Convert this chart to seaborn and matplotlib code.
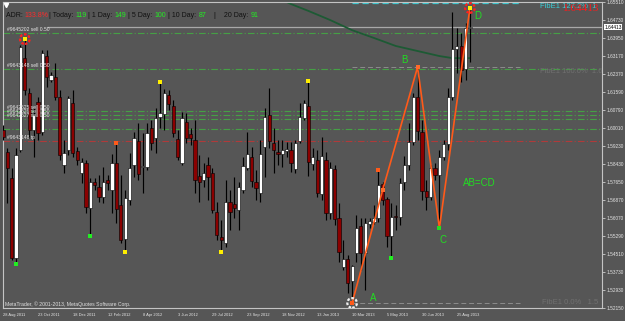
import numpy as np
import pandas as pd
import matplotlib
matplotlib.use("Agg")
import matplotlib.pyplot as plt
import seaborn as sns

BG = "#565656"
sns.set_style("dark", rc={"axes.facecolor": BG, "figure.facecolor": BG})
plt.rcParams["font.family"] = ["Liberation Sans", "DejaVu Sans"]

# ---------------- data (weekly candles) ----------------
week_start = "2011-08-28"
opens = [1.5992, 1.5896, 1.5783, 1.5433, 1.5905, 1.6306, 1.6154, 1.5992, 1.6114, 1.5983,
         1.6315, 1.6210, 1.6224, 1.6136, 1.5839, 1.5905, 1.6110, 1.5900, 1.5804, 1.5848,
         1.5652, 1.5765, 1.5743, 1.5700, 1.5774, 1.5730, 1.5848, 1.5665, 1.5516, 1.5687,
         1.5839, 1.5944, 1.5831, 1.5831, 1.6001, 1.5957, 1.6049, 1.6062, 1.6145, 1.6097,
         1.5953, 1.5848, 1.6027, 1.5975, 1.5948, 1.5791, 1.5774, 1.5839, 1.5804, 1.5634,
         1.5525, 1.5499, 1.5678, 1.5669, 1.5643, 1.5730, 1.5826, 1.5874, 1.5765, 1.5717,
         1.5918, 1.6058, 1.5935, 1.5896, 1.5887, 1.5900, 1.5905, 1.5822, 1.5944, 1.6045,
         1.6097, 1.5844, 1.5861, 1.5713, 1.5861, 1.5630, 1.5822, 1.5608, 1.5394, 1.5429,
         1.5333, 1.5455, 1.5573, 1.5455, 1.5582, 1.5590, 1.5608, 1.5756, 1.5691, 1.5529,
         1.5617, 1.5612, 1.5765, 1.5839, 1.5940, 1.6136, 1.5983, 1.5726, 1.5700, 1.5826,
         1.5796, 1.5874, 1.5931, 1.6136, 1.6346, 1.6359, 1.6258, 1.6437]
highs = [1.6014, 1.5914, 1.5826, 1.5914, 1.6363, 1.6389, 1.6176, 1.6088, 1.6136, 1.6341,
         1.6341, 1.6245, 1.6285, 1.6167, 1.5948, 1.6141, 1.6167, 1.5918, 1.5870, 1.5861,
         1.5783, 1.5783, 1.5796, 1.5831, 1.5796, 1.5887, 1.5935, 1.5796, 1.5730, 1.5892,
         1.5983, 1.6023, 1.5979, 1.6023, 1.6036, 1.6088, 1.6202, 1.6171, 1.6167, 1.6123,
         1.5992, 1.6071, 1.6066, 1.6001, 1.6036, 1.5883, 1.5848, 1.5874, 1.5826, 1.5678,
         1.5599, 1.5774, 1.5730, 1.5787, 1.5765, 1.5874, 1.5983, 1.5918, 1.5817, 1.5948,
         1.6088, 1.6176, 1.6001, 1.5948, 1.5948, 1.5940, 1.5940, 1.5948, 1.6110, 1.6123,
         1.6206, 1.5914, 1.5905, 1.5962, 1.5896, 1.5852, 1.5839, 1.5673, 1.5512, 1.5446,
         1.5403, 1.5621, 1.5608, 1.5608, 1.5608, 1.5665, 1.5817, 1.5765, 1.5700, 1.5673,
         1.5665, 1.5783, 1.5879, 1.6023, 1.6154, 1.6267, 1.6036, 1.5774, 1.5839, 1.5848,
         1.5905, 1.5948, 1.6176, 1.6507, 1.6437, 1.6416, 1.6459, 1.6525]
lows = [1.5948, 1.5673, 1.5425, 1.5407, 1.5896, 1.6145, 1.5957, 1.5874, 1.5948, 1.5970,
        1.6180, 1.6202, 1.6123, 1.5861, 1.5804, 1.5883, 1.5874, 1.5839, 1.5761, 1.5630,
        1.5529, 1.5730, 1.5678, 1.5673, 1.5730, 1.5630, 1.5586, 1.5499, 1.5460, 1.5665,
        1.5787, 1.5774, 1.5717, 1.5817, 1.5905, 1.5892, 1.6001, 1.5992, 1.6079, 1.5962,
        1.5861, 1.5839, 1.5935, 1.5927, 1.5717, 1.5678, 1.5743, 1.5687, 1.5630, 1.5512,
        1.5460, 1.5481, 1.5556, 1.5608, 1.5556, 1.5717, 1.5817, 1.5743, 1.5687, 1.5678,
        1.5787, 1.5914, 1.5804, 1.5839, 1.5831, 1.5874, 1.5809, 1.5804, 1.5935, 1.6036,
        1.5791, 1.5817, 1.5700, 1.5687, 1.5599, 1.5604, 1.5577, 1.5416, 1.5381, 1.5280,
        1.5237, 1.5416, 1.5381, 1.5294, 1.5564, 1.5582, 1.5590, 1.5665, 1.5481, 1.5433,
        1.5556, 1.5577, 1.5730, 1.5817, 1.5927, 1.5948, 1.5687, 1.5643, 1.5687, 1.5774,
        1.5564, 1.5861, 1.5905, 1.6123, 1.6241, 1.6202, 1.6210, 1.6289]
closes = [1.5962, 1.5826, 1.5433, 1.5883, 1.6354, 1.6167, 1.5992, 1.6058, 1.5979, 1.6328,
          1.6224, 1.6232, 1.6136, 1.5883, 1.5892, 1.6132, 1.5892, 1.5861, 1.5852, 1.5656,
          1.5765, 1.5752, 1.5700, 1.5765, 1.5761, 1.5848, 1.5647, 1.5512, 1.5695, 1.5826,
          1.5957, 1.5800, 1.5835, 1.5979, 1.5935, 1.6045, 1.6066, 1.6154, 1.6106, 1.5979,
          1.5874, 1.6045, 1.5957, 1.5957, 1.5774, 1.5765, 1.5804, 1.5787, 1.5643, 1.5534,
          1.5512, 1.5678, 1.5634, 1.5652, 1.5743, 1.5835, 1.5887, 1.5769, 1.5739, 1.5887,
          1.6049, 1.5944, 1.5905, 1.5887, 1.5905, 1.5909, 1.5848, 1.5935, 1.6049, 1.6110,
          1.5852, 1.5874, 1.5717, 1.5879, 1.5630, 1.5826, 1.5604, 1.5460, 1.5429, 1.5324,
          1.5398, 1.5564, 1.5455, 1.5586, 1.5595, 1.5608, 1.5752, 1.5687, 1.5529, 1.5612,
          1.5612, 1.5761, 1.5839, 1.5940, 1.6136, 1.5988, 1.5726, 1.5700, 1.5826, 1.5796,
          1.5874, 1.5931, 1.6136, 1.6346, 1.6359, 1.6254, 1.6437, 1.6441]
bid_price = 1.64413

# moving average (only the visible part near the top)
ma_idx = [64, 66, 70, 75, 80, 85, 90, 95, 100, 103, 107]
ma_val = [1.6560, 1.6542, 1.6512, 1.6472, 1.6428, 1.6394, 1.6359, 1.6337, 1.6315, 1.6306, 1.6306]

# AB=CD zigzag
zz_idx = [80, 87, 95, 100, 107]
zz_val = [1.5237, 1.5730, 1.6267, 1.5564, 1.6525]

# fractal markers
yellow_idx = [36, 70, 28, 50]
yellow_val = [1.6202, 1.6206, 1.5460, 1.5460]
green_idx = [3, 20, 89]
green_val = [1.5407, 1.5529, 1.5433]
orange_idx = [26, 86]
orange_val = [1.5935, 1.5817]

# order lines
order_levels = [1.6416, 1.6258, 1.6075, 1.6058, 1.6040, 1.5996]
order_labels = ["#9645202 sell 0.50", "#9643148 sell 0.50", "#9642525 sell 0.50",
                "#9642526 sell 0.50", "#9642527 sell 0.50", ""]
tp_level = 1.5944
tp_label = "#9643148 tp"

# fibonacci expansion
fib_levels = [1.6547, 1.6267, 1.5237]
fib_names = ["FibE1 127.2%  1", "FibE1 100.0%  1.6", "FibE1 0.0%   1.5"]

ytick_vals = [1.65510, 1.64730, 1.63950, 1.63170, 1.62370, 1.61590, 1.60790, 1.60010,
              1.59230, 1.58430, 1.57650, 1.56870, 1.56070, 1.55290, 1.54510, 1.53730,
              1.52930, 1.52150]

header = [("ADR: ", "#101010"), ("133.8%", "#ff2a2a"), ("| Today: ", "#101010"),
          ("119", "#22ee22"), (" | 1 Day: ", "#101010"), ("149", "#22ee22"),
          (" | 5 Day: ", "#101010"), ("100", "#22ee22"), (" | 10 Day: ", "#101010"),
          ("87", "#22ee22"), ("    |    20 Day: ", "#101010"), ("91", "#22ee22")]

# ---------------- figure ----------------
n = len(opens)
dates = pd.date_range(week_start, periods=n, freq="7D")
idx = np.arange(n)
o = np.array(opens); h = np.array(highs); l = np.array(lows); c = np.array(closes)
h = np.maximum(h, np.maximum(o, c)); l = np.minimum(l, np.minimum(o, c))

W, H = 625, 321
fig = plt.figure(figsize=(W / 100, H / 100), dpi=100)
fig.patch.set_facecolor(BG)
ax = fig.add_axes([3 / W, 13 / H, 599 / W, 306 / H])
ax.set_facecolor(BG)
px_per_bar = 4.364
ax.set_xlim(0, 599 / px_per_bar)
ax.set_ylim(1.5215, 1.6551)

# horizontal order lines
for lev, lab in zip(order_levels, order_labels):
    ax.axhline(lev, color="#45a045", lw=0.8, ls=(0, (6, 2, 1, 2)), zorder=1)
    if lab:
        ax.text(0.006, lev + 0.0004, lab, transform=ax.get_yaxis_transform(),
                fontsize=3.6, color="#e4e4e4", va="bottom", ha="left", zorder=6)
ax.axhline(tp_level, color="#b03a3a", lw=0.8, ls=(0, (6, 2, 1, 2)), zorder=1)
ax.text(0.006, tp_level + 0.0004, tp_label, transform=ax.get_yaxis_transform(),
        fontsize=3.6, color="#e4e4e4", va="bottom", ha="left", zorder=6)

# bid line
ax.hlines(bid_price, 10, ax.get_xlim()[1], color="#a9a9a9", lw=0.9, zorder=1)

# fibonacci lines
fib_end = 118.4
ax.hlines(fib_levels[0], zz_idx[0], fib_end, color="#39c8d0", lw=0.9, ls=(0, (5, 3)), zorder=1)
ax.hlines(fib_levels[1:], zz_idx[0], fib_end, color="#8c8c8c", lw=0.7, ls=(0, (5, 3)), zorder=1)
ax.text(123.0, fib_levels[0] - 0.0002, fib_names[0], color="#39d0d8", fontsize=5.5,
        va="top", ha="left", clip_on=True, zorder=6)
ax.text(123.0, fib_levels[1] - 0.0002, fib_names[1], color="#707070", fontsize=5.5,
        va="top", ha="left", clip_on=True, zorder=6)
ax.text(123.6, fib_levels[2] + 0.0002, fib_names[2], color="#707070", fontsize=5.5,
        va="center", ha="left", clip_on=True, zorder=6)
ax.text(128.3, 1.6543, f"{bid_price:.5f}", color="#ff1a1a", fontsize=8.0,
        family="Liberation Serif", va="top", ha="left", zorder=9)

# moving average
sns.lineplot(x=ma_idx, y=ma_val, ax=ax, color="#1d5a34", lw=1.3, sort=False,
             estimator=None, zorder=2)

# candles
up = c >= o
body_b = np.minimum(o, c)
body_h = np.maximum(np.abs(c - o), 0.00012)
ax.vlines(idx, l, h, colors="black", lw=0.85, zorder=3)
ax.bar(idx[up], body_h[up], bottom=body_b[up], width=0.74, color="white",
       edgecolor="black", lw=0.4, zorder=4)
ax.bar(idx[~up], body_h[~up], bottom=body_b[~up], width=0.74, color="#8b0000",
       edgecolor="black", lw=0.4, zorder=4)

# zigzag AB=CD
sns.lineplot(x=zz_idx, y=zz_val, ax=ax, color="#ff5a1a", lw=1.2, sort=False,
             estimator=None, zorder=5)
ax.scatter(zz_idx[1:3], zz_val[1:3], marker="s", s=5, color="#ff6a2a", zorder=6, lw=0)
ax.scatter([zz_idx[3]], [zz_val[3]], marker="s", s=6, color="#22dd22", zorder=6, lw=0)

# fractal dots
sns.scatterplot(x=yellow_idx, y=yellow_val, ax=ax, marker="s", s=6, color="#ffee00",
                linewidth=0, zorder=6)
sns.scatterplot(x=green_idx, y=green_val, ax=ax, marker="s", s=6, color="#22ee22",
                linewidth=0, zorder=6)
sns.scatterplot(x=orange_idx, y=orange_val, ax=ax, marker="s", s=6, color="#ff5a1a",
                linewidth=0, zorder=6)

# gear markers
def gear(x, y, ring, center):
    ax.scatter([x], [y], s=48, facecolors="none", edgecolors=ring, linewidths=1.6,
               linestyle=(0, (1.2, 0.8)), zorder=7)
    ax.scatter([x], [y], s=9, marker="s", color=center, lw=0, zorder=8)

gear(5, highs[5], "#ff2020", "#ffee00")
gear(zz_idx[0], zz_val[0], "#f0f0f0", "#ff5a1a")
gear(zz_idx[-1], zz_val[-1], "#ff2020", "#ffee00")

# pattern labels
lab_col = "#22dd22"
ax.text(84.8, 1.5259, "A", color=lab_col, fontsize=7, ha="center", va="center", zorder=7)
ax.text(91.9, 1.6298, "B", color=lab_col, fontsize=7, ha="center", va="center", zorder=7)
ax.text(100.9, 1.5512, "C", color=lab_col, fontsize=7, ha="center", va="center", zorder=7)
ax.text(108.9, 1.6490, "D", color=lab_col, fontsize=7, ha="center", va="center", zorder=7)
ax.text(105.4, 1.5761, "AB=CD", color=lab_col, fontsize=7, ha="left", va="center", zorder=7)

# axes styling
for sp in ax.spines.values():
    sp.set_visible(True)
    sp.set_color("#c4c4c4")
    sp.set_linewidth(0.8)
ax.grid(False)
ax.yaxis.tick_right()
ax.set_yticks(ytick_vals)
ax.set_yticklabels([f"{v:.5f}" for v in ytick_vals], fontsize=3.4, color="#e6e6e6")
xt = list(range(0, n, 8))
ax.set_xticks(xt)
ax.set_xticklabels([f"{d.day} {d:%b %Y}" for d in dates[xt]], fontsize=2.9,
                   color="#e6e6e6", ha="left")
ax.tick_params(axis="both", colors="#e6e6e6", length=2, width=0.5, pad=1.5,
               labelcolor="#e6e6e6")
ax.set_xlabel(""); ax.set_ylabel("")

# current price label on the axis
ax.text(1.004, bid_price, f"{bid_price:.5f}", transform=ax.get_yaxis_transform(),
        fontsize=3.4, color="black", va="center", ha="left",
        bbox=dict(boxstyle="square,pad=0.15", fc="white", ec="none"), clip_on=False)

# footer
ax.text(2 / 599, 4 / 306, "MetaTrader, \u00a9 2001-2013, MetaQuotes Software Corp.",
        transform=ax.transAxes, fontsize=3.7, color="#e0e0e0", va="center", ha="left")

# header (coloured pieces)
prev = None
for s, col in header:
    if prev is None:
        prev = fig.text(6 / W, 1 - 19 / H, s, color=col, fontsize=5.0, va="bottom", ha="left")
    else:
        prev = ax.annotate(s, xy=(1, 0), xycoords=prev, color=col, fontsize=5.0,
                           va="bottom", ha="left", annotation_clip=False)
fig.lines.append(plt.Line2D([6 / W], [1 - 5 / H], marker="v", color="white",
                            markersize=3, transform=fig.transFigure))

fig.savefig("out.png", dpi=100, facecolor=BG)
